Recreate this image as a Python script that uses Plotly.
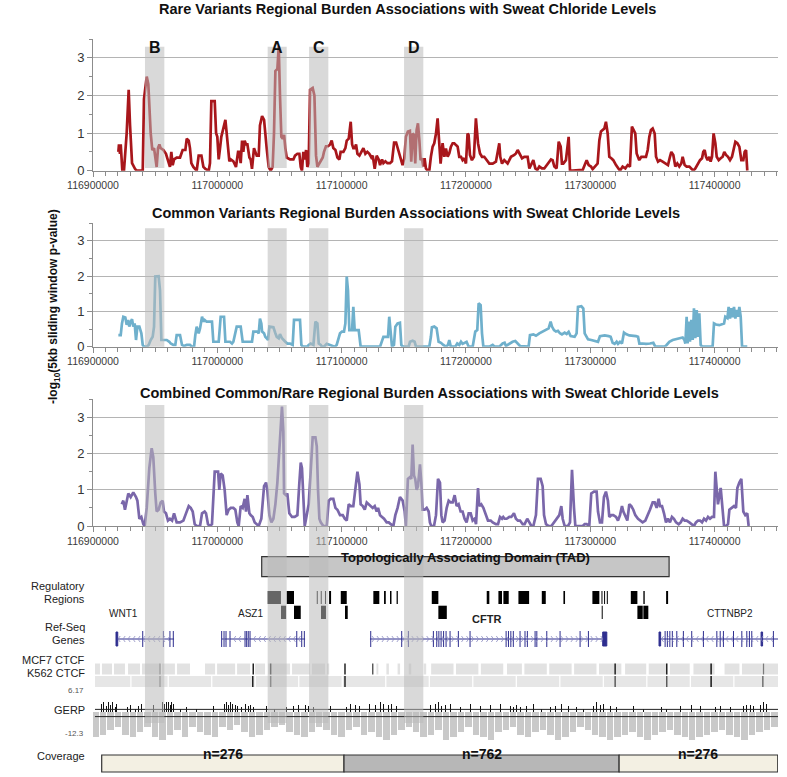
import plotly.graph_objects as go

W, H = 787, 777
POS0 = 116900000          # genomic origin of the x axis (bp)
XEND_KB = 551.0           # axis end, kb after POS0

TITLES = ["Rare Variants Regional Burden Associations with Sweat Chloride Levels",
          "Common Variants Regional Burden Associations with Sweat Chloride Levels",
          "Combined Common/Rare Regional Burden Associations with Sweat Chloride Levels"]
Y_TITLE = "<b>-log<sub>10</sub>(5kb sliding window p-value)</b>"

# (kb after 116,900,000 ; -log10 p)
rare = [(20.4,0.5),(20.9,0.7),(21.7,0.45),(22.3,0.7),(23.6,0.0),(24.9,0.0),(27.1,1.0),(28.7,2.15),(29.8,1.2),(31.4,0.2),
        (33.8,0.05),(35.1,0.0),(40.0,0.0),(41.0,1.9),(43.2,2.5),(44.5,2.3),(46.4,1.0),(47.7,0.55),(49.1,0.6),(50.1,0.3),
        (51.2,0.1),(52.3,0.6),(53.4,0.7),(54.4,0.6),(56.6,0.55),(58.7,0.45),(60.6,0.2),(61.9,0.1),(63.0,0.5),(64.1,0.15),
        (65.2,0.3),(67.3,0.35),(70.0,0.35),(72.1,0.55),(74.3,0.55),(75.4,0.85),(77.0,0.8),(78.0,0.6),(79.1,0.2),(80.7,0.1),
        (83.4,0.0),(85.0,0.4),(87.2,0.4),(88.8,0.1),(90.4,0.05),(93.1,0.0),(94.1,0.2),(95.2,1.85),(97.9,1.85),(99.0,1.0),
        (100.0,0.9),(101.1,0.3),(102.2,0.6),(103.2,0.9),(106.5,1.35),(107.5,1.0),(108.6,0.6),(109.7,0.25),(110.8,0.3),(112.9,0.25),
        (115.0,0.1),(116.7,0.5),(117.7,0.5),(118.8,0.2),(119.9,0.8),(120.9,0.5),(122.0,0.8),(123.1,0.7),(124.2,0.7),(125.8,0.35),
        (126.8,0.3),(127.9,0.05),(129.5,0.6),(131.7,0.4),(133.3,0.4),(134.3,1.2),(136.0,1.45),(137.6,1.35),(139.7,0.6),(141.3,0.1),
        (142.9,0.0),(144.5,0.1),(145.6,1.0),(146.7,2.65),(148.3,2.7),(149.4,3.3),(150.4,2.0),(151.5,0.9),(152.6,0.85),(153.7,0.95),
        (154.7,0.6),(155.8,0.35),(158.5,0.3),(161.2,0.3),(162.5,0.4),(164.4,0.45),(166.0,0.45),(167.1,0.1),(168.1,0.0),(169.2,0.5),
        (170.3,0.3),(171.4,0.55),(172.4,0.1),(173.5,0.2),(174.6,2.15),(176.7,2.2),(178.1,2.0),(179.4,0.4),(180.5,0.1),(182.1,0.2),
        (183.2,0.25),(184.8,0.35),(185.8,0.5),(187.4,0.65),(189.1,0.65),(190.7,0.7),(192.0,0.8),(193.3,0.6),(195.0,0.55),(196.6,0.35),
        (198.2,0.3),(199.2,0.5),(201.4,0.5),(203.0,0.6),(204.1,0.8),(205.7,0.85),(207.3,1.3),(208.4,0.7),(209.4,0.6),(210.5,0.6),
        (211.6,0.7),(212.7,0.45),(214.3,0.4),(215.9,0.5),(217.5,0.6),(219.1,0.45),(220.7,0.5),(222.3,0.45),(223.9,0.35),(225.0,0.4),
        (226.6,0.05),(228.2,0.4),(229.8,0.3),(230.9,0.15),(232.5,0.3),(233.6,0.2),(235.2,0.25),(236.8,0.2),(238.9,0.2),(240.5,0.25),
        (242.2,0.75),(243.8,0.75),(246.9,0.37),(249.0,0.15),(250.4,0.33),(251.7,0.9),(253.3,1.04),(254.9,1.06),(256.0,0.24),(257.1,0.99),
        (258.2,0.95),(259.2,0.19),(260.3,1.08),(261.4,1.26),(262.5,0.81),(263.5,0.28),(264.6,0.33),(265.7,0.11),(266.7,0.33),(267.8,0.06),
        (269.2,0.0),(270.5,0.0),(271.8,0.37),(273.2,0.64),(274.5,0.73),(275.9,0.99),(277.2,1.39),(278.5,0.81),(279.6,0.19),(281.2,0.73),
        (282.6,0.37),(283.9,0.59),(285.3,0.37),(286.6,0.46),(287.9,0.64),(289.3,0.73),(290.6,0.73),(292.0,0.68),(293.3,0.64),(294.6,0.37),
        (296.0,0.37),(297.3,0.28),(298.7,0.33),(300.0,0.19),(301.3,0.99),(302.1,0.95),(303.2,0.42),(304.8,0.28),(306.4,0.37),(308.0,1.39),
        (309.7,0.73),(311.3,0.46),(312.9,0.37),(314.7,0.37),(316.6,0.28),(318.8,0.19),(321.5,0.19),(324.1,0.24),(326.8,0.73),(327.6,0.37),
        (329.0,0.19),(330.8,0.28),(333.5,0.19),(336.2,0.37),(338.9,0.42),(340.2,0.46),(341.6,0.55),(342.9,0.46),(345.1,0.33),(346.9,0.37),
        (349.6,0.37),(351.0,0.06),(352.6,0.19),(354.2,0.28),(355.8,0.06),(357.4,0.02),(359.0,0.11),(361.1,0.06),(363.0,0.06),(365.7,0.19),
        (368.4,0.30),(369.7,0.28),(371.1,0.11),(372.9,0.06),(374.6,0.77),(376.2,0.64),(377.2,0.19),(378.3,0.19),(380.4,0.28),(382.6,0.9),
        (383.7,0.0),(385.8,0.0),(388.5,0.0),(391.2,0.0),(393.9,0.02),(396.0,0.19),(397.1,0.28),(398.7,0.15),(400.6,0.11),(401.9,0.04),
        (404.0,0.11),(405.9,0.19),(407.3,0.81),(408.6,1.04),(411.3,1.12),(412.6,1.30),(414.0,0.99),(415.3,0.37),(416.9,0.33),(418.5,0.28),
        (420.7,0.15),(422.3,0.06),(423.9,0.0),(426.0,0.11),(428.2,0.06),(430.1,0.15),(431.9,0.11),(433.5,1.17),(434.6,1.08),(436.2,0.99),
        (437.3,0.46),(438.4,0.37),(439.4,0.28),(441.1,0.37),(442.7,0.37),(444.8,0.37),(446.2,0.55),(447.5,0.9),(448.8,1.08),(450.2,1.12),
        (451.8,0.99),(452.9,0.37),(454.5,0.24),(456.1,0.28),(458.2,0.24),(460.4,0.19),(462.5,0.15),(464.1,0.37),(465.2,0.50),(466.8,0.42),
        (468.4,0.11),(470.0,0.19),(471.6,0.11),(473.2,0.19),(474.3,0.37),(475.9,0.15),(477.5,0.11),(479.7,0.11),(481.3,0.06),(482.9,0.0),
        (484.5,0.06),(486.4,0.19),(488.3,0.28),(489.9,0.33),(490.9,0.50),(492.0,0.55),(493.1,0.37),(494.4,0.28),(495.8,0.37),(496.8,0.24),
        (497.9,0.37),(499.2,0.99),(500.6,0.73),(501.7,0.37),(503.3,0.28),(504.9,0.33),(506.5,0.37),(507.8,0.50),(509.2,0.42),(510.8,0.37),
        (512.4,0.28),(514.0,0.37),(515.6,0.64),(516.7,0.77),(518.3,0.73),(519.9,0.64),(521.5,0.28),(523.1,0.28),(524.2,0.50),(525.3,0.55),
        (526.3,0.0)]

common = [(20.4,0.33),(22.3,0.33),(23.3,0.66),(24.4,0.85),(26.0,0.83),(27.1,0.62),(28.2,0.76),(29.2,0.57),(30.3,0.71),(31.4,0.78),
          (32.4,0.57),(33.5,0.66),(34.6,0.19),(35.7,0.57),(37.3,0.57),(38.9,0.38),(40.0,0.05),(41.0,0.0),(43.2,0.0),(44.8,0.05),
          (46.4,0.19),(48.0,0.28),(49.1,0.57),(50.1,1.99),(52.8,2.0),(53.9,1.6),(55.0,0.19),(56.6,0.19),(59.3,0.19),(61.4,0.14),
          (62.5,0.09),(64.6,0.05),(66.2,0.05),(67.3,0.33),(70.0,0.33),(71.6,0.05),(73.2,0.02),(75.4,0.05),(78.0,0.05),(79.6,0.0),
          (81.3,0.0),(82.3,0.33),(83.4,0.57),(85.0,0.38),(86.1,0.52),(87.7,0.85),(88.8,0.71),(89.8,0.76),(91.4,0.71),(94.1,0.71),
          (95.7,0.71),(96.8,0.14),(98.4,0.14),(101.1,0.14),(102.7,0.85),(105.4,0.85),(106.5,0.14),(107.5,0.14),(110.2,0.14),(111.8,0.09),
          (112.9,0.14),(115.6,0.57),(118.8,0.57),(120.4,0.14),(123.6,0.14),(127.9,0.14),(129.0,0.43),(132.2,0.43),(133.3,0.38),(134.3,0.80),
          (135.4,0.66),(136.0,0.43),(137.6,0.38),(138.6,0.28),(139.7,0.24),(140.8,0.19),(141.9,0.57),(145.1,0.55),(146.7,0.38),(147.8,0.28),
          (149.4,0.24),(150.4,0.36),(152.0,0.24),(153.1,0.19),(154.7,0.14),(156.3,0.09),(158.5,0.09),(160.6,0.05),(161.7,0.76),(166.5,0.76),
          (167.6,0.05),(168.7,0.0),(172.4,0.0),(173.5,0.05),(175.1,0.09),(177.3,0.05),(178.9,0.71),(180.5,0.66),(181.6,0.09),(183.2,0.05),
          (184.2,0.0),(185.8,0.0),(186.9,0.05),(188.0,0.08),(190.7,0.05),(192.3,0.02),(194.4,0.0),(196.0,0.05),(197.1,0.19),(198.7,0.38),
          (200.3,0.43),(201.9,0.43),(203.0,0.66),(204.1,1.99),(205.1,1.6),(206.2,0.47),(208.4,0.47),(209.4,1.13),(210.5,0.47),(211.6,0.47),
          (213.7,0.47),(215.3,0.0),(230.9,0.0),(233.6,0.28),(235.7,0.28),(237.3,0.28),(238.3,0.85),(239.4,0.28),(240.5,0.0),(242.1,0.05),
          (243.2,0.57),(245.0,0.66),(246.9,0.68),(248.0,0.05),(249.1,0.0),(253.9,0.0),(255.0,0.14),(257.1,0.17),(258.7,0.14),(259.8,0.0),
          (270.5,0.0),(271.8,0.28),(272.6,0.55),(274.5,0.57),(276.4,0.52),(278.0,0.14),(279.9,0.11),(281.8,0.05),(283.9,0.0),(285.5,0.05),
          (286.6,0.19),(287.7,0.02),(289.3,0.0),(291.4,0.0),(293.0,0.09),(294.6,0.05),(296.0,0.14),(297.3,0.08),(298.9,0.11),(300.5,0.14),
          (302.2,0.0),(305.4,0.0),(307.5,0.43),(309.1,0.47),(310.2,1.23),(311.8,1.18),(312.9,0.38),(314.0,0.0),(318.8,0.0),(321.5,0.05),
          (323.1,0.0),(326.8,0.0),(329.5,0.09),(331.1,0.11),(332.2,0.02),(334.9,0.08),(337.5,0.14),(339.7,0.16),(341.8,0.09),(343.5,0.02),
          (350.4,0.0),(351.5,0.33),(354.2,0.35),(356.3,0.31),(359.0,0.38),(361.7,0.43),(364.4,0.47),(366.5,0.52),(368.1,0.71),(369.2,0.57),
          (370.8,0.47),(372.4,0.43),(374.0,0.45),(375.6,0.38),(377.2,0.35),(379.4,0.40),(381.0,0.36),(382.6,0.42),(384.2,0.30),(385.8,0.28),
          (387.4,0.28),(389.0,0.38),(390.1,1.13),(392.8,1.15),(394.4,1.08),(395.5,0.38),(398.2,0.21),(400.8,0.19),(403.5,0.17),(406.2,0.14),
          (407.8,0.30),(411.6,0.32),(414.8,0.30),(416.4,0.28),(418.0,0.11),(419.6,0.08),(421.2,0.14),(422.3,0.08),(423.9,0.14),(425.5,0.09),
          (427.1,0.40),(428.7,0.36),(431.4,0.32),(434.1,0.32),(436.8,0.30),(438.4,0.28),(439.5,0.09),(442.1,0.09),(444.8,0.08),(448.0,0.09),
          (450.7,0.11),(452.3,0.0),(459.8,0.0),(461.4,0.05),(463.6,0.14),(466.3,0.19),(468.9,0.21),(471.6,0.24),(474.3,0.26),(475.7,0.19),
          (476.5,0.09),(477.5,0.85),(478.3,0.09),(479.1,0.71),(480.2,0.14),(481.3,0.76),(482.4,0.19),(483.4,1.09),(484.5,0.24),(485.6,1.04),
          (486.7,0.28),(487.7,0.95),(488.8,0.05),(489.9,0.0),(498.4,0.0),(499.5,0.66),(501.1,0.63),(503.8,0.61),(506.5,0.64),(507.6,0.66),
          (508.6,0.85),(510.3,0.81),(511.3,1.13),(512.4,0.80),(513.5,1.09),(514.5,0.83),(515.6,1.13),(516.7,0.80),(517.8,1.04),(518.9,0.85),
          (519.9,1.13),(521.0,0.85),(522.1,0.0),(526.3,0.0)]

combined = [(23.1,0.6),(24.4,0.7),(25.7,0.45),(28.4,0.9),(30.3,0.8),(32.4,0.93),(34.6,0.8),(35.7,0.7),(37.3,0.2),(38.9,0.25),
            (40.5,0.05),(41.6,0.0),(43.2,0.5),(45.3,1.6),(47.2,2.15),(48.5,1.9),(50.1,0.9),(51.2,0.4),(52.8,0.45),(54.4,0.65),
            (56.0,0.7),(57.1,0.4),(58.7,0.35),(60.3,0.15),(61.9,0.2),(63.6,0.15),(65.2,0.35),(66.2,0.2),(67.3,0.1),(70.0,0.1),
            (72.7,0.15),(74.3,0.3),(77.0,0.55),(78.6,0.5),(80.2,0.4),(81.8,0.05),(83.4,0.0),(86.1,0.0),(87.7,0.35),(89.8,0.4),
            (90.9,0.35),(92.5,0.05),(94.1,0.0),(95.7,0.05),(97.9,1.5),(100.6,1.5),(101.6,1.0),(102.7,1.45),(104.3,1.4),(105.9,1.0),
            (107.5,0.3),(109.1,0.45),(110.8,0.5),(112.9,0.5),(114.5,0.45),(116.1,0.1),(117.2,0.0),(118.8,0.55),(120.4,0.5),(122.0,0.75),
            (123.1,0.4),(124.2,0.85),(125.8,0.35),(126.8,0.3),(128.5,0.25),(130.1,0.1),(131.7,0.05),(133.3,0.0),(135.4,0.2),(137.6,1.1),
            (139.2,1.2),(140.2,1.0),(141.9,0.3),(143.5,0.1),(145.1,0.2),(146.7,0.6),(148.3,1.2),(149.9,2.2),(151.0,3.0),(152.0,3.3),
            (153.1,2.6),(153.7,0.9),(155.3,0.85),(156.3,0.9),(157.9,0.35),(160.1,0.25),(162.2,0.25),(164.4,0.3),(166.0,1.2),(167.1,1.75),
            (168.1,1.6),(169.2,0.5),(170.3,0.0),(171.9,0.3),(173.5,0.6),(175.1,1.5),(176.7,2.45),(178.9,2.45),(180.0,2.2),(181.0,1.0),
            (182.1,0.2),(183.2,0.1),(185.3,0.0),(188.0,0.0),(189.6,0.7),(191.2,0.75),(193.3,0.75),(195.0,0.5),(196.6,0.45),(198.7,0.3),
            (200.9,0.3),(202.5,0.2),(204.1,0.15),(205.7,0.6),(207.3,0.55),(209.4,0.55),(211.0,1.1),(212.7,1.5),(214.3,1.15),(215.3,0.6),
            (217.0,0.55),(218.6,0.45),(220.2,0.65),(221.8,0.6),(223.4,0.55),(225.0,0.5),(226.6,0.55),(228.2,0.4),(229.3,0.5),(230.9,0.3),
            (232.5,0.25),(234.1,0.2),(236.2,0.1),(237.9,0.1),(239.5,0.05),(241.6,0.0),(243.2,0.3),(245.0,0.5),(246.9,0.8),(249.1,0.7),
            (250.7,0.4),(251.7,0.0),(253.3,1.3),(254.9,1.35),(256.0,1.3),(257.1,2.25),(258.2,1.4),(259.2,1.3),(260.3,1.0),(261.4,1.1),
            (263.0,1.7),(264.1,1.2),(265.1,0.45),(266.8,0.45),(268.4,0.5),(270.0,0.4),(271.0,0.1),(272.1,0.0),(274.3,0.0),(275.9,0.3),
            (277.5,1.3),(279.1,1.2),(280.2,0.3),(281.2,0.1),(282.8,0.15),(284.5,0.5),(286.1,0.7),(287.7,0.65),(289.3,0.65),(290.9,0.85),
            (292.5,0.55),(294.1,0.6),(295.7,0.4),(297.3,0.4),(298.9,0.2),(300.5,0.1),(302.2,0.35),(303.8,0.35),(305.4,0.15),(307.0,0.2),
            (308.1,0.05),(309.7,1.05),(310.7,0.55),(312.3,0.6),(314.0,0.5),(315.6,0.35),(317.7,0.15),(319.9,0.15),(321.5,0.1),(324.1,0.05),
            (325.8,0.05),(327.4,0.25),(329.0,0.2),(330.0,0.25),(331.1,0.2),(332.7,0.2),(334.9,0.25),(336.5,0.25),(338.6,0.35),(340.2,0.2),
            (341.8,0.15),(343.5,0.15),(345.6,0.05),(347.2,0.05),(349.3,0.2),(351.0,0.1),(352.6,0.0),(354.2,0.0),(356.3,0.3),(357.9,1.3),
            (360.1,1.3),(361.7,1.1),(362.8,0.3),(364.4,0.05),(366.5,0.0),(368.7,0.0),(370.8,0.1),(372.9,0.2),(375.1,0.3),(376.7,0.55),
            (377.8,0.2),(379.4,0.0),(382.1,0.0),(383.7,0.1),(385.3,1.55),(386.9,0.5),(388.0,0.0),(393.9,0.0),(395.5,0.05),(397.1,0.05),
            (399.2,0.0),(400.8,0.9),(403.0,0.95),(405.1,0.95),(406.2,0.4),(407.8,0.1),(409.4,0.1),(411.0,0.8),(412.6,0.95),(414.2,0.7),
            (415.3,0.25),(416.9,0.3),(418.5,0.3),(420.7,0.25),(422.3,0.15),(423.9,0.3),(425.5,0.55),(426.6,0.4),(428.2,0.25),(429.8,0.15),
            (431.4,0.6),(433.0,0.55),(434.6,0.45),(436.2,0.3),(438.4,0.2),(440.0,0.15),(442.1,0.1),(444.3,0.15),(446.4,0.35),(448.0,0.45),
            (450.2,0.65),(451.8,0.65),(453.4,0.5),(455.0,0.75),(456.1,0.55),(457.7,0.55),(459.3,0.35),(460.9,0.1),(462.5,0.2),(464.1,0.1),
            (465.7,0.25),(467.3,0.2),(469.0,0.1),(471.1,0.05),(472.7,0.1),(474.3,0.2),(475.9,0.15),(477.5,0.15),(479.7,0.1),(481.3,0.05),
            (483.4,0.0),(485.0,0.1),(486.7,0.15),(488.3,0.15),(489.9,0.1),(491.5,0.2),(493.1,0.15),(494.7,0.25),(496.3,0.2),(497.9,0.25),
            (499.5,0.25),(500.6,1.5),(501.7,1.1),(502.7,0.6),(504.9,1.05),(506.0,0.5),(507.6,0.0),(509.2,0.0),(510.8,0.05),(511.9,0.45),
            (514.0,0.5),(515.6,0.55),(517.2,0.5),(518.3,1.05),(519.9,1.2),(521.5,1.3),(523.1,0.4),(524.7,0.3),(526.3,0.35),(527.4,0.0)]

# highlighted windows (label, start kb, end kb)
bands = [("B", 41.8, 57.4), ("A", 140.5, 155.8), ("C", 173.8, 189.3), ("D", 250.2, 265.7)]

tad_span = (135.7, 463.4)
TAD_LABEL = "Topologically Associating Domain (TAD)"

reg_row1 = [(140.5,151.2),(155.8,161.7),(180.0,180.8),(183.2,184.0),(186.6,187.4),(189.9,191.5),(199.3,204.1),
            (225.5,230.3),(234.1,235.5),(238.9,240.1),(244.2,245.2),(272.5,277.8),(316.7,318.8),(326.1,329.0),
            (330.1,334.4),(342.2,350.8),(361.0,364.2),(378.4,379.7),(401.7,407.3),(409.0,409.8),(411.1,411.9),
            (413.3,414.1),(432.6,437.9),(442.7,443.8),(461.0,462.6)]
reg_row2 = [(151.2,155.3),(161.7,167.1),(183.4,187.4),(202.7,204.9),(277.8,284.6),(409.2,410.0),(437.9,442.2),(442.7,446.7)]

gene_names = ["WNT1", "ASZ1", "CFTR", "CTTNBP2"]
gene_spans = [(18.5, 65.2), (103.5, 170.6), (222.8, 413.3), (455.6, 551.3)]
gene_strand = [-1, -1, 1, -1]
gene_label_kb = [24.9, 126.3, 316.2, 512.5]
gene_exons = [[40.0, 56.6, 61.9, 64.6],
              [103.5, 105.4, 107.0, 110.2, 122.3, 123.6, 124.9, 126.3, 163.9, 167.9, 170.0],
              [223.4, 248.3, 253.7, 273.8, 276.5, 278.2, 280.0, 282.0, 284.0, 287.2, 293.9, 303.3, 332.3, 334.2,
               336.1, 338.1, 343.5, 347.5, 349.4, 355.6, 357.0, 365.0, 375.7, 391.8, 398.5],
              [460.2, 462.0, 464.0, 466.0, 469.6, 474.9, 481.6, 491.0, 501.8, 504.5, 507.1, 515.2, 521.9, 525.9,
               528.0, 529.9, 547.3]]
gene_thick = [[(18.5, 19.9)], [], [(410.0, 413.3)], [(455.3, 456.6), (537.4, 538.6)]]

mcf7_segments = [(1.6,5.6),(7.2,15.3),(16.9,25.7),(28.2,37.8),(39.4,53.9),(55.5,65.9),(67.6,78.0),(90.1,98.2),
                 (99.8,114.3),(115.9,126.4),(130.4,138.4),(140.8,158.5),(160.1,174.6),(176.2,186.6),(188.2,190.0),
                 (228.0,229.5),(236.0,238.0),(245.0,247.0),(254.0,256.0),(266.0,268.0),(272.0,290.0),(292.0,310.0),
                 (312.0,330.0),(333.0,345.0),(347.0,365.0),(367.0,385.0),(387.0,405.0),(407.0,425.0),(428.0,445.0),
                 (447.0,462.0),(464.0,480.0),(483.0,500.0),(508.0,520.0),(522.0,538.0),(540.0,552.0)]
k562_segments = [(1.6,30.0),(31.0,60.0),(61.0,95.0),(96.0,130.0),(131.0,165.0),(166.0,200.0),(201.0,235.0),
                 (236.0,270.0),(271.0,305.0),(306.0,340.0),(341.0,375.0),(376.0,410.0),(411.0,445.0),(446.0,480.0),
                 (481.0,515.0),(516.0,552.0)]
# (kb, signal strength 0-1)
mcf7_peaks = [(53.9,0.4),(128.9,0.85),(142.9,0.8),(202.7,0.85),(225.0,0.6),(420.0,0.85),(461.5,0.85),(497.2,0.9),(539.3,0.45)]
k562_peaks = [(53.9,0.4),(128.5,0.85),(142.9,0.6),(202.7,0.85),(420.0,0.6),(461.5,0.6),(497.2,0.9),(538.8,0.5)]

GERP_MAX, GERP_MIN = 6.17, -12.3
gerp_pos = [(7.0,3.5),(8.8,4.0),(11.0,2.5),(12.3,4.0),(13.7,3.0),(15.8,4.0),(17.7,2.0),(19.1,3.5),(27.9,2.0),(30.3,3.0),
            (33.8,1.5),(36.5,2.5),(39.2,3.5),(48.5,3.0),(55.8,4.0),(57.4,3.5),(59.3,4.0),(60.6,4.0),(62.0,3.0),(63.3,4.0),
            (64.6,3.5),(70.0,1.5),(75.4,2.0),(83.4,1.5),(96.8,2.5),(105.4,3.5),(107.0,4.0),(108.9,3.0),(110.8,4.0),(112.4,3.5),
            (114.3,3.0),(116.1,2.5),(119.6,2.0),(122.3,3.5),(125.0,2.5),(126.9,3.0),(129.0,2.0),(139.7,2.5),(145.6,1.5),(155.8,2.0),
            (161.2,2.5),(165.2,3.0),(170.6,3.0),(173.3,2.5),(177.3,2.0),(190.7,2.5),(204.1,2.0),(206.8,3.5),(210.8,3.0),(214.3,2.5),
            (222.8,3.5),(226.9,3.0),(231.0,4.0),(233.6,3.5),(237.6,3.0),(240.3,3.5),(244.4,2.5),(271.1,3.0),(275.1,3.5),(277.8,4.0),
            (280.5,2.5),(283.2,3.0),(287.2,3.5),(295.3,2.0),(303.3,3.5),(311.3,2.5),(319.4,3.0),(327.4,3.5),(335.5,2.5),(338.1,2.0),
            (340.8,3.0),(343.5,2.0),(348.9,2.5),(354.2,3.5),(361.0,1.5),(367.7,2.0),(371.7,2.5),(377.1,3.5),(382.4,2.5),(389.1,2.0),
            (394.5,1.5),(402.5,2.5),(405.2,4.0),(407.9,3.0),(410.5,3.5),(415.9,2.5),(421.3,2.0),(434.7,2.5),(442.7,1.5),(457.5,2.0),
            (461.5,1.5),(472.2,2.5),(481.6,3.0),(488.3,2.5),(500.4,2.0),(504.4,2.5),(512.5,2.0),(523.2,2.5),(525.9,3.0),(528.6,3.0),
            (531.3,2.5),(536.6,3.0),(539.3,4.0),(542.0,3.5)]
gerp_neg = [(2,-10),(8,-9),(14,-7),(20,-6),(26,-9),(32,-10),(38,-8),(44,-6),(50,-10),(56,-11),(62,-9),(68,-7),
            (74,-10),(80,-6),(86,-8),(92,-9),(98,-10),(104,-6),(110,-7),(116,-5),(122,-8),(128,-10),(134,-9),(140,-7),
            (146,-6),(152,-5),(158,-8),(164,-9),(170,-10),(176,-8),(182,-6),(188,-7),(194,-9),(200,-10),(206,-7),(212,-6),
            (218,-9),(224,-8),(230,-10),(236,-11),(242,-9),(248,-7),(254,-6),(260,-8),(266,-10),(272,-9),(278,-7),(284,-11),
            (290,-10),(296,-8),(302,-6),(308,-9),(314,-10),(320,-11),(326,-8),(332,-7),(338,-6),(344,-9),(350,-10),(356,-8),
            (362,-7),(368,-9),(374,-11),(380,-10),(386,-8),(392,-6),(398,-7),(404,-9),(410,-10),(416,-11),(422,-10),(428,-9),
            (434,-8),(440,-10),(446,-11),(452,-9),(458,-8),(464,-7),(470,-9),(476,-10),(482,-11),(488,-10),(494,-9),(500,-8),
            (506,-7),(512,-9),(518,-10),(524,-11),(530,-9),(536,-8),(542,-7),(548,-6)]

coverage = [("n=276", 7.0, 201.9, "#f3f0e3"), ("n=762", 201.9, 423.2, "#b7b7b7"), ("n=276", 423.2, 550.8, "#f3f0e3")]

track_labels = [("Regulatory", 594), ("Regions", 607), ("Ref-Seq", 635), ("Genes", 648),
                ("MCF7 CTCF", 667.5), ("K562 CTCF", 681), ("GERP", 718), ("Coverage", 763.5)]


# ---------------------------------------------------------------- helpers
def bp(v):
    return POS0 + v * 1000.0


def py(p):       # pixel row -> paper fraction
    return 1 - p / H


def pxf(p):      # pixel column -> paper fraction
    return p / W


FONT = "Liberation Sans, Arial, sans-serif"
XDOM = [pxf(93), pxf(778)]
XR = [POS0, bp(XEND_KB)]
YDOMS = [[py(170.7), py(39)], [py(346.7), py(223.3)], [py(526), py(399.3)]]
AX = "#8c8c8c"

fig = go.Figure()

colors = ["#a8161b", "#6fb0cc", "#7a67aa"]
for i, data in enumerate([rare, common, combined]):
    sfx = "" if i == 0 else str(i + 1)
    fig.add_trace(go.Scatter(x=[bp(p) for p, _ in data], y=[v for _, v in data], mode="lines",
                             line=dict(color=colors[i], width=2.7), xaxis="x" + sfx, yaxis="y" + sfx,
                             hoverinfo="skip", showlegend=False))

# GERP track
fig.add_trace(go.Bar(x=[bp(p) for p, _ in gerp_neg], y=[v for _, v in gerp_neg], width=5200,
                     marker=dict(color="#c9c9c9", line=dict(width=0)), xaxis="x4", yaxis="y4",
                     hoverinfo="skip", showlegend=False))
fig.add_trace(go.Bar(x=[bp(p) for p, _ in gerp_pos], y=[v for _, v in gerp_pos], width=800,
                     marker=dict(color="#111111", line=dict(width=0)), xaxis="x4", yaxis="y4",
                     hoverinfo="skip", showlegend=False))

layout = dict(width=W, height=H, margin=dict(l=0, r=0, t=0, b=0, pad=0, autoexpand=False),
              paper_bgcolor="white", plot_bgcolor="rgba(0,0,0,0)", showlegend=False, barmode="overlay",
              bargap=0, font=dict(family=FONT, color="#222"), template="none", hovermode=False)

for i in range(3):
    sfx = "" if i == 0 else str(i + 1)
    layout["xaxis" + sfx] = dict(domain=XDOM, range=XR, anchor="y" + sfx, tickmode="linear", tick0=POS0,
                                 dtick=100000, tickformat="d", ticks="outside", ticklen=5, tickcolor=AX,
                                 showline=True, linecolor=AX, linewidth=1, showgrid=False, zeroline=False,
                                 automargin=False,
                                 tickfont=dict(size=10.5, color="#3a3a3a", family=FONT),
                                 minor=dict(dtick=10000, tick0=POS0, ticks="outside", ticklen=4, tickcolor=AX))
    layout["yaxis" + sfx] = dict(domain=YDOMS[i], range=[0, 3.5], anchor="x" + sfx, tickmode="linear", tick0=0,
                                 dtick=1, ticks="outside", ticklen=5, tickcolor=AX, showline=True, linecolor=AX,
                                 linewidth=1, showgrid=True, gridcolor="#b4b4b4", gridwidth=1, zeroline=False,
                                 automargin=False,
                                 tickfont=dict(size=13, color="#333", family=FONT),
                                 minor=dict(dtick=0.5, ticks="outside", ticklen=3, tickcolor=AX, showgrid=False))
layout["xaxis4"] = dict(domain=XDOM, range=XR, anchor="y4", visible=False, automargin=False)
layout["yaxis4"] = dict(domain=[py(743), py(697)], range=[GERP_MIN, GERP_MAX], anchor="x4", visible=False,
                        automargin=False)

shapes = []
annotations = []

# titles
for t, (xc, yc) in zip(TITLES, [(407, 9), (416, 213), (429, 393)]):
    annotations.append(dict(text="<b>%s</b>" % t, x=pxf(xc), y=py(yc), xref="paper", yref="paper",
                            showarrow=False, xanchor="center", yanchor="middle",
                            font=dict(size=14.5, color="#111", family=FONT)))
annotations.append(dict(text=Y_TITLE, x=pxf(44), y=py(307), xref="paper", yref="paper", textangle=-90,
                        showarrow=False, font=dict(size=12, color="#111", family=FONT)))

# TAD box
shapes.append(dict(type="rect", xref="x", yref="paper", x0=bp(tad_span[0]), x1=bp(tad_span[1]),
                   y0=py(576.7), y1=py(556.7), fillcolor="#c6c6c6", line=dict(color="#333", width=1.2),
                   layer="above"))
annotations.append(dict(text="<b>%s</b>" % TAD_LABEL, x=bp((tad_span[0] + tad_span[1]) / 2), y=py(566.5),
                        xref="x", yref="paper", showarrow=False, font=dict(size=13, color="#111", family=FONT)))

# regulatory regions
for row, (top, bot) in [(reg_row1, (591, 604)), (reg_row2, (605.7, 619))]:
    for a, b in row:
        shapes.append(dict(type="rect", xref="x", yref="paper", x0=bp(a), x1=bp(b), y0=py(bot), y1=py(top),
                           fillcolor="#000", line=dict(width=0), layer="above"))

# genes
GENE_C = "#2e2e8f"
for name, (a, b), strand, lab, exons, thick in zip(gene_names, gene_spans, gene_strand, gene_label_kb,
                                                    gene_exons, gene_thick):
    shapes.append(dict(type="line", xref="x", yref="paper", x0=bp(a), x1=bp(b), y0=py(639), y1=py(639),
                       line=dict(color=GENE_C, width=1), layer="above"))
    for e in exons:
        shapes.append(dict(type="line", xref="x", yref="paper", x0=bp(e), x1=bp(e), y0=py(647), y1=py(631),
                           line=dict(color=GENE_C, width=1), layer="above"))
    for c, d in thick:
        shapes.append(dict(type="rect", xref="x", yref="paper", x0=bp(c), x1=bp(d), y0=py(646), y1=py(632),
                           fillcolor=GENE_C, line=dict(color=GENE_C, width=1), layer="above"))
    # strand chevrons along the intron line (decoration)
    k = a + 2.5
    while k < b - 1.5:
        tip, tail = (k - 0.9, k + 0.9) if strand < 0 else (k + 0.9, k - 0.9)
        shapes.append(dict(type="path", xref="x", yref="paper",
                           path="M %f,%f L %f,%f L %f,%f" % (bp(tail), py(636), bp(tip), py(639), bp(tail), py(642)),
                           line=dict(color="#8a8ac0", width=0.8), layer="above"))
        k += 4.0
    bold = name == "CFTR"
    annotations.append(dict(text=("<b>%s</b>" % name) if bold else name, x=bp(lab), y=py(627 if bold else 621),
                            xref="x", yref="paper", showarrow=False,
                            font=dict(size=11 if bold else 10, color="#222", family=FONT)))

# CTCF tracks
for segs, peaks, (top, bot), base in [(mcf7_segments, mcf7_peaks, (663.5, 674.5), "#e2e2e2"),
                                      (k562_segments, k562_peaks, (676, 687), "#e6e6e6")]:
    for a, b in segs:
        shapes.append(dict(type="rect", xref="x", yref="paper", x0=bp(a), x1=bp(b), y0=py(bot), y1=py(top),
                           fillcolor=base, line=dict(width=0), layer="above"))
    for p, s in peaks:
        g = int(225 * (1 - s))
        shapes.append(dict(type="rect", xref="x", yref="paper", x0=bp(p - 0.6), x1=bp(p + 0.6), y0=py(bot),
                           y1=py(top), fillcolor="rgb(%d,%d,%d)" % (g, g, g), line=dict(width=0), layer="above"))

# GERP reference lines
for gv in (1.2, -1.7):
    shapes.append(dict(type="line", xref="x", yref="y4", x0=bp(1.6), x1=bp(552.7), y0=gv, y1=gv,
                       line=dict(color="#222", width=1), layer="above"))
for txt, yy in [(str(GERP_MAX), 697), (str(GERP_MIN), 740)]:
    annotations.append(dict(text=txt, x=pxf(86), y=py(yy), xref="paper", yref="paper", xanchor="right",
                            showarrow=False, font=dict(size=8, color="#555", family=FONT)))

# coverage
for txt, a, b, col in coverage:
    shapes.append(dict(type="rect", xref="x", yref="paper", x0=bp(a), x1=bp(b), y0=py(772), y1=py(755),
                       fillcolor=col, line=dict(color="#333", width=1.2), layer="above"))
    annotations.append(dict(text="<b>%s</b>" % txt, x=bp((a + b) / 2), y=py(763.5), xref="x", yref="paper",
                            showarrow=False, font=dict(size=14, color="#111", family=FONT)))

for txt, yy in track_labels:
    annotations.append(dict(text=txt, x=pxf(87), y=py(yy), xref="paper", yref="paper", xanchor="right",
                            showarrow=False, font=dict(size=11, color="#222", family=FONT)))

# highlighted windows, drawn over everything
BAND_FILL = "rgba(185,185,185,0.55)"
for lab, a, b in bands:
    for top, bot in [(46.7, 168), (228.3, 346.7), (405, 723)]:
        shapes.append(dict(type="rect", xref="x", yref="paper", x0=bp(a), x1=bp(b), y0=py(bot), y1=py(top),
                           fillcolor=BAND_FILL, line=dict(width=0), layer="above"))
    annotations.append(dict(text="<b>%s</b>" % lab, x=bp((a + b) / 2), y=py(37), xref="x", yref="paper",
                            showarrow=False, font=dict(size=16, color="#111", family=FONT)))

layout["shapes"] = shapes
layout["annotations"] = annotations
fig.update_layout(**layout)
fig.write_html("out.html", config={"displayModeBar": False, "staticPlot": True},
               post_script="document.body.style.margin='0px';document.body.style.padding='0px';")
